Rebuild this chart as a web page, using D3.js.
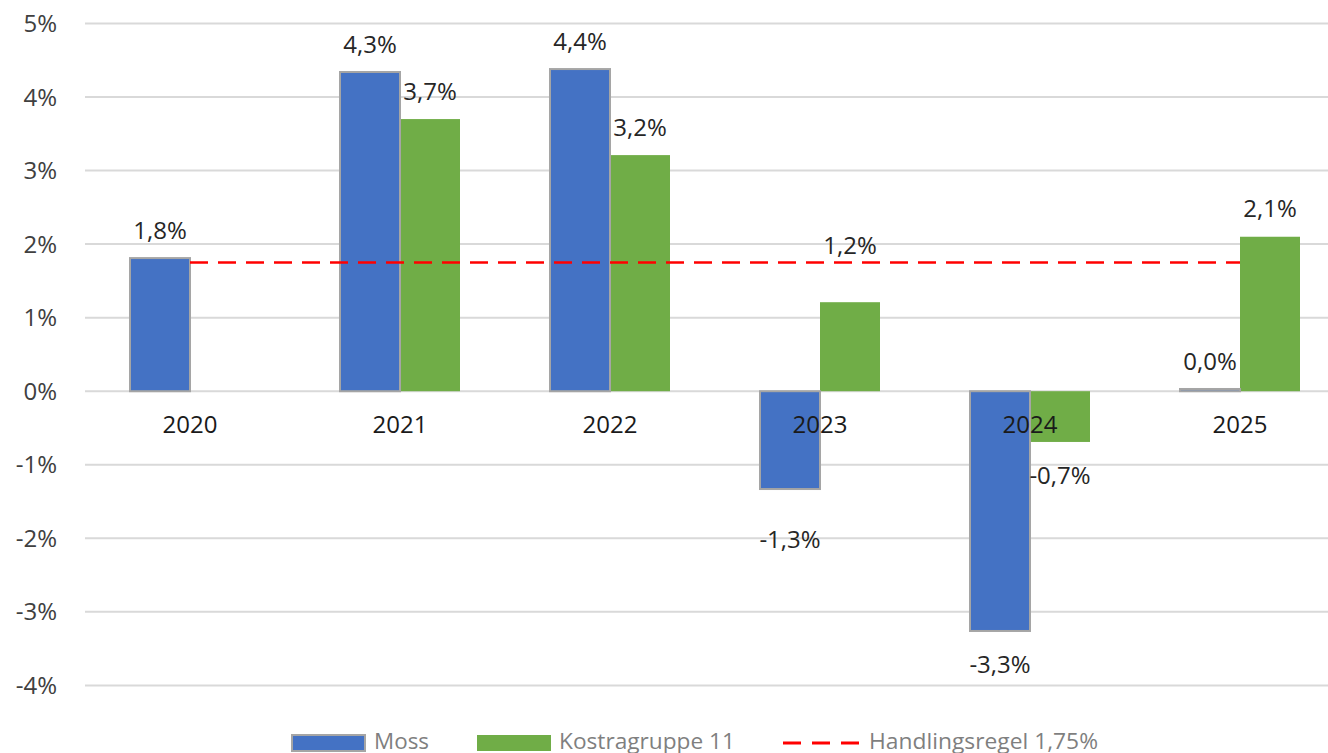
<!DOCTYPE html>
<html>
<head>
<meta charset="utf-8">
<script src="https://cdn.jsdelivr.net/npm/d3@7"></script>
<style>
  html, body { margin: 0; padding: 0; background: #fff; }
  svg { display: block; }
</style>
</head>
<body>
<svg id="chart" width="1328" height="753"></svg>
<script>
// ---- data ----
const years = ["2020", "2021", "2022", "2023", "2024", "2025"];
const moss = [1.81, 4.34, 4.38, -1.33, -3.26, 0.03];
const kostra = [null, 3.70, 3.21, 1.21, -0.69, 2.10];
const mossLabels = ["1,8%", "4,3%", "4,4%", "-1,3%", "-3,3%", "0,0%"];
const kostraLabels = [null, "3,7%", "3,2%", "1,2%", "-0,7%", "2,1%"];
const handlingsregel = 1.75;
const yTicks = [5, 4, 3, 2, 1, 0, -1, -2, -3, -4];
const yTickLabels = ["5%", "4%", "3%", "2%", "1%", "0%", "-1%", "-2%", "-3%", "-4%"];
const seriesNames = ["Moss", "Kostragruppe 11", "Handlingsregel 1,75%"];

// ---- layout ----
const W = 1328, H = 753;
const plotLeft = 85, plotRight = 1328;
const svg = d3.select("#chart");
const font = "'Open Sans', 'Liberation Sans', sans-serif";

const y = d3.scaleLinear().domain([-4, 5]).range([685.4, 23.45]);
const x = d3.scaleBand().domain(years).range([85, 1345]).paddingInner(0).paddingOuter(0);
const barW = 60;
const sub = d3.scaleBand().domain(["moss", "kostra"]).range([x.bandwidth() / 2 - barW, x.bandwidth() / 2 + barW]);

// gridlines
svg.append("g").selectAll("line").data(yTicks).join("line")
  .attr("x1", plotLeft).attr("x2", plotRight)
  .attr("y1", d => y(d)).attr("y2", d => y(d))
  .attr("stroke", "#d9d9d9").attr("stroke-width", 2);

// y tick labels
svg.append("g").selectAll("text").data(yTicks).join("text")
  .attr("x", 57).attr("y", d => y(d)).attr("dy", "0.36em")
  .attr("text-anchor", "end")
  .attr("font-family", font).attr("font-size", 24).attr("fill", "#404040")
  .text((d, i) => yTickLabels[i]);

// bars
const mossData = years.map((yr, i) => ({ yr, v: moss[i], label: mossLabels[i], key: "moss" }));
const kostraData = years.map((yr, i) => ({ yr, v: kostra[i], label: kostraLabels[i], key: "kostra" })).filter(d => d.v !== null);

svg.append("g").selectAll("rect").data(kostraData).join("rect")
  .attr("x", d => x(d.yr) + sub("kostra"))
  .attr("width", sub.bandwidth())
  .attr("y", d => y(Math.max(0, d.v)))
  .attr("height", d => Math.abs(y(d.v) - y(0)))
  .attr("fill", "#70ad47");

svg.append("g").selectAll("rect").data(mossData).join("rect")
  .attr("x", d => x(d.yr) + sub("moss"))
  .attr("width", sub.bandwidth())
  .attr("y", d => y(Math.max(0, d.v)))
  .attr("height", d => Math.abs(y(d.v) - y(0)))
  .attr("fill", "#4472c4")
  .attr("stroke", "#a5a5a5").attr("stroke-width", 2);

// handlingsregel line
svg.append("line")
  .attr("x1", x(years[0]) + x.bandwidth() / 2)
  .attr("x2", x(years[years.length - 1]) + x.bandwidth() / 2)
  .attr("y1", y(handlingsregel)).attr("y2", y(handlingsregel))
  .attr("stroke", "#ff0000").attr("stroke-width", 2.5)
  .attr("stroke-dasharray", "18,10");

// category labels
svg.append("g").selectAll("text").data(years).join("text")
  .attr("x", d => x(d) + x.bandwidth() / 2)
  .attr("y", y(0) + 33).attr("dy", "0.36em")
  .attr("text-anchor", "middle")
  .attr("font-family", font).attr("font-size", 24).attr("fill", "#1a1a1a")
  .text(d => d);

// data labels (nudges for manually moved labels)
const nudge = { "moss-2023": 17, "kostra-2023": -29 };
const allLabels = mossData.concat(kostraData);
svg.append("g").selectAll("text").data(allLabels).join("text")
  .attr("x", d => x(d.yr) + sub(d.key) + sub.bandwidth() / 2)
  .attr("y", d => (d.v >= 0 ? y(d.v) - 28 : y(d.v) + 33) + (nudge[d.key + "-" + d.yr] || 0))
  .attr("dy", "0.36em")
  .attr("text-anchor", "middle")
  .attr("font-family", font).attr("font-size", 24).attr("fill", "#262626")
  .text(d => d.label);

// legend
const lg = svg.append("g");
const ly = 743;
lg.append("rect").attr("x", 292).attr("y", ly - 8).attr("width", 73).attr("height", 16)
  .attr("fill", "#4472c4").attr("stroke", "#a5a5a5").attr("stroke-width", 2);
lg.append("rect").attr("x", 477).attr("y", ly - 8).attr("width", 74).attr("height", 16)
  .attr("fill", "#70ad47");
lg.append("line").attr("x1", 783).attr("x2", 860).attr("y1", ly).attr("y2", ly)
  .attr("stroke", "#ff0000").attr("stroke-width", 3).attr("stroke-dasharray", "18,11");
const legendText = [
  { x: 374, len: 55 },
  { x: 559, len: 176 },
  { x: 869, len: 229 }
];
lg.selectAll("text").data(legendText).join("text")
  .attr("x", d => d.x).attr("y", 749)
  .attr("font-family", font).attr("font-size", 22).attr("fill", "#7f7f7f")
  .attr("textLength", d => d.len).attr("lengthAdjust", "spacingAndGlyphs")
  .text((d, i) => seriesNames[i]);
</script>
</body>
</html>
